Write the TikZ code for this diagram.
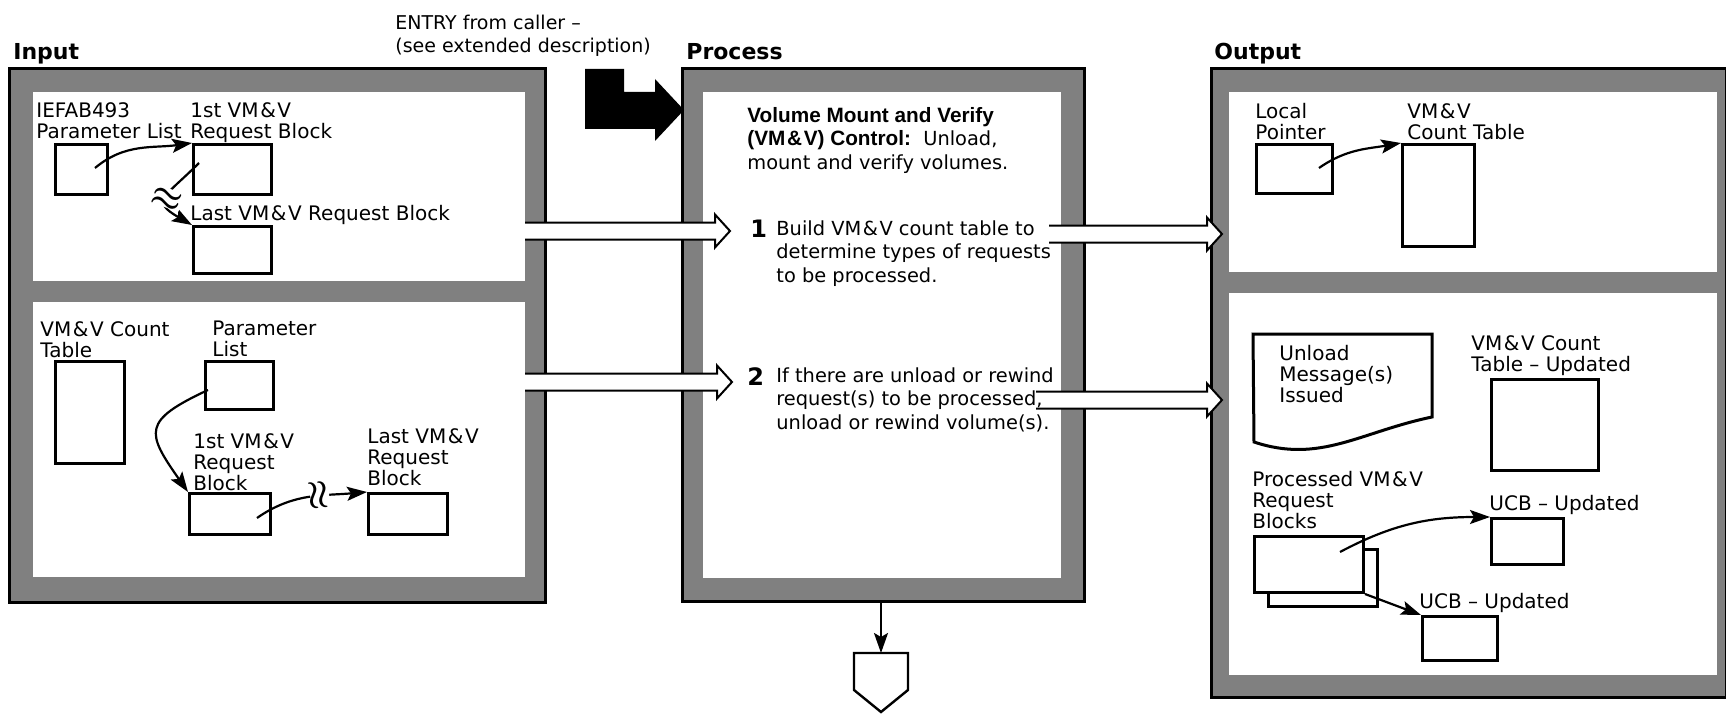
\documentclass[tikz,border=0pt]{standalone}
\usepackage{fontspec}
\setmainfont{DejaVu Sans}
\newfontfamily\narrowsans{Liberation Sans}[Scale=1.07]
\usetikzlibrary{arrows.meta}
\newcommand\vmv{VM\kern.08em\&\kern.08em V}
% wide hollow flow arrow from #1 to the tip #2 (same height)
\newcommand\fatarrow[2]{%
  \draw[fat] ([yshift=4.25pt]#1) -- ([xshift=-7.5pt,yshift=4.25pt]#2)
    -- ([xshift=-7.5pt,yshift=8.25pt]#2) -- (#2)
    -- ([xshift=-7.5pt,yshift=-8.25pt]#2) -- ([xshift=-7.5pt,yshift=-4.25pt]#2)
    -- ([yshift=-4.25pt]#1);}
\tikzset{
  >={Stealth[length=10pt,width=7pt,inset=2pt]},
  panel/.style={fill=black!50,draw=black,line width=1.5pt},
  pane/.style={fill=white},
  blk/.style={draw,fill=white,line width=1.5pt,inner sep=0pt,anchor=north west},
  lbl/.style={align=left,inner sep=0pt,anchor=north west},
  txt/.style={lbl,font=\fontsize{9.7}{11.75}\selectfont},
  hd/.style={anchor=north west,inner sep=0pt,font=\fontsize{11}{13}\selectfont\bfseries},
  num/.style={anchor=north west,inner sep=0pt,font=\fontsize{12}{14}\selectfont\bfseries},
  ptr/.style={->,line width=1.1pt},
  fat/.style={fill=white,draw=black,line width=1pt},
  brk/.style={fill=white,inner sep=0pt,font=\LARGE\boldmath},
}
\tikzstyle{every node}=[font=\fontsize{10}{10.5}\selectfont]

\begin{document}
\begin{tikzpicture}[x=.5pt,y=.5pt]
  \useasboundingbox (0,0) rectangle (1726,714);
  % headings
  \node[hd] (inhd) at (13,671) {Input};
  \node[hd] (prhd) at (686,671) {Process};
  \node[hd] (outhd) at (1214,671) {Output};
  \node[lbl,font=\fontsize{9.5}{11.5}\selectfont] (entry) at (395,699)
    {ENTRY from caller --\\(see extended description)};

  % frames
  \draw[panel] (9,112) rectangle (545,645);
  \fill[pane] (33,433) rectangle (525,622);
  \fill[pane] (33,137) rectangle (525,412);
  \draw[panel] (682,113) rectangle (1084,645);
  \fill[pane] (703,136) rectangle (1061,622);
  \draw[panel] (1211,17) rectangle (1726,645);
  \fill[pane] (1229,442) rectangle (1717,622);
  \fill[pane] (1229,39) rectangle (1717,421);

  % entry from caller
  \fill (585,645) -- (624,645) -- (624,622) -- (655,622) -- (655,635) -- (684,604)
    -- (655,573) -- (655,585) -- (585,585) -- cycle;

  % flow arrows
  \coordinate (i1) at (525,483); \coordinate (p1) at (730,483);
  \coordinate (i2) at (525,332); \coordinate (p2) at (732,332);
  \coordinate (q1) at (1049,480); \coordinate (o1) at (1222,480);
  \coordinate (q2) at (1036,314); \coordinate (o2) at (1222,314);
  \fatarrow{i1}{p1}
  \fatarrow{i2}{p2}
  \fatarrow{q1}{o1}
  \fatarrow{q2}{o2}

  % input, upper part
  \node[lbl] (ieflbl) at (36,612) {IEFAB493\\Parameter List};
  \node[lbl] (rb1lbl) at (190,612) {1st \vmv\\Request Block};
  \node[lbl] (rbnlbl) at (190,509) {Last \vmv{} Request Block};
  \node[blk,minimum width=26pt,minimum height=25pt] (ief) at (54,571) {};
  \node[blk,minimum width=39pt,minimum height=25pt] (rb1) at (192,571) {};
  \node[blk,minimum width=39pt,minimum height=23.5pt] (rbn) at (192,489) {};
  \coordinate (a1) at (95,546);
  \coordinate (a2) at (199,551);
  \draw[ptr] (a1) to[out=40,in=188] (rb1.north west);
  \draw[ptr] (a2) to[out=225,in=150,looseness=2]
    node[brk,sloped,rotate=90] (brk1) {$\approx$} (rbn.north west);

  % input, lower part
  \node[lbl] (cntlbl) at (40,393) {\vmv{} Count\\Table};
  \node[lbl] (parlbl) at (212,393) {Parameter\\List};
  \node[lbl] (rb1blbl) at (193,281) {1st \vmv\\Request\\Block};
  \node[lbl] (rbnblbl) at (367,286) {Last \vmv\\Request\\Block};
  \node[blk,minimum width=34.5pt,minimum height=51pt] (cnt) at (54,354) {};
  \node[blk,minimum width=34pt,minimum height=24pt] (par) at (204,354) {};
  \node[blk,minimum width=40.5pt,minimum height=20.5pt] (rb1b) at (188,222) {};
  \node[blk,minimum width=39.5pt,minimum height=20.5pt] (rbnb) at (367,222) {};
  \coordinate (a3) at (208,324);
  \coordinate (a4) at (257,196);
  \draw[ptr] (a3) to[out=205,in=125,looseness=1.8] (rb1b.north west);
  \draw[ptr] (a4) to[out=35,in=185]
    node[brk,sloped,rotate=90,pos=.6] (brk2) {$\approx$} (rbnb.north west);

  % process
  \node[txt] (title) at (747,607) {{\narrowsans\bfseries Volume Mount and Verify}\\
    {\narrowsans\bfseries (\vmv) Control:}\ \ Unload,\\mount and verify volumes.};
  \node[num] (n1) at (750,494) {1};
  \node[txt] (s1) at (776,494) {Build \vmv{} count table to\\determine types of requests\\to be processed.};
  \node[num] (n2) at (747,347) {2};
  \node[txt] (s2) at (776,347) {If there are unload or rewind\\request(s) to be processed,\\unload or rewind volume(s).};
  \coordinate (pb) at (881,113);
  \coordinate (exit) at (881,61);
  \draw[ptr] (pb) -- (exit);
  \draw[line width=1.2pt] (854,61) -- (908,61) -- (908,24) -- (881,2) -- (854,24) -- cycle;

  % output, upper part
  \node[lbl] (ptrlbl) at (1255,611) {Local\\Pointer};
  \node[lbl] (ctlbl) at (1407,611) {\vmv\\Count Table};
  \node[blk,minimum width=38pt,minimum height=24.5pt] (ptr) at (1255,571) {};
  \node[blk,minimum width=36pt,minimum height=51pt] (ct) at (1401,571) {};
  \coordinate (a5) at (1319,546);
  \draw[ptr] (a5) to[out=35,in=190] (ct.north west);

  % output, lower part
  \draw[line width=1.5pt] (1253,380) -- (1432,380) -- (1432,297)
    .. controls (1360,282) and (1320,250) .. (1254,272) -- cycle;
  \node[lbl] (msg) at (1279,369) {Unload\\Message(s)\\Issued};
  \node[lbl] (ctulbl) at (1471,379) {\vmv{} Count\\Table -- Updated};
  \node[blk,minimum width=53.5pt,minimum height=45.5pt] (ctu) at (1490,336) {};
  \node[lbl] (prclbl) at (1252,243) {Processed \vmv\\Request\\Blocks};
  \node[blk,minimum width=54.5pt,minimum height=28.5pt] (back) at (1267,166) {};
  \node[blk,minimum width=54.5pt,minimum height=28pt] (front) at (1253,179) {};
  \node[lbl] (ucb1lbl) at (1489,219) {UCB -- Updated};
  \node[blk,minimum width=36pt,minimum height=23pt] (ucb1) at (1490,197) {};
  \node[lbl] (ucb2lbl) at (1419,121) {UCB -- Updated};
  \node[blk,minimum width=37.5pt,minimum height=22pt] (ucb2) at (1421,99) {};
  \coordinate (a6) at (1340,162);
  \draw[ptr] (a6) to[out=28,in=180] (ucb1.north west);
  \draw[ptr] (front.south east) -- (ucb2.north west);
\end{tikzpicture}
\end{document}
